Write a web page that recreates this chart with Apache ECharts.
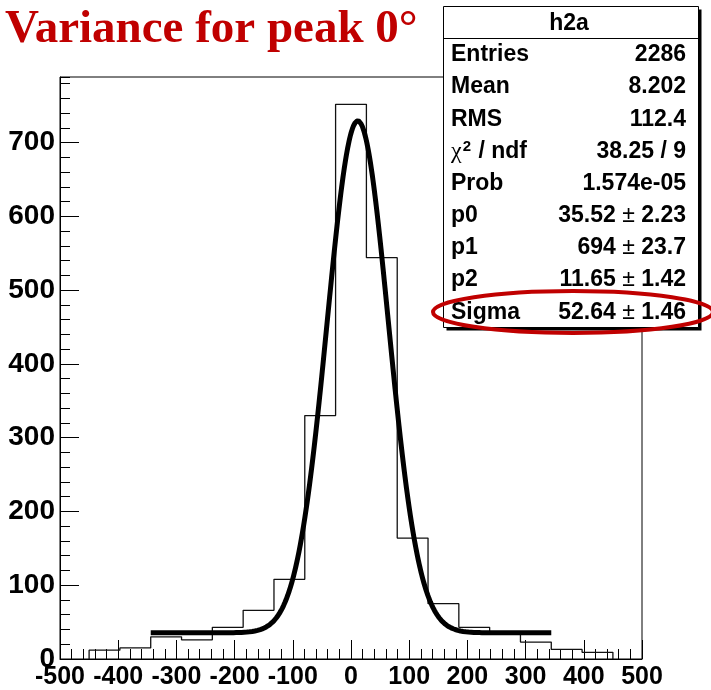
<!DOCTYPE html>
<html>
<head>
<meta charset="utf-8">
<script src="https://cdn.jsdelivr.net/npm/echarts@6/dist/echarts.min.js"></script>
<style>
  html, body { margin: 0; padding: 0; background: #ffffff; }
  #chart { width: 711px; height: 690px; }
</style>
</head>
<body>
<div id="chart"></div>
<script>
// Histogram h2a: 17 equal bins over [-450, 450]
const binLow = -450;
const binHigh = 450;
const binCounts = [12, 15, 30, 26, 43, 66, 108, 330, 752, 544, 164, 75, 43, 36, 23, 13, 9];

// Fit: constant p0 plus a Gaussian of height p1, mean p2 and width Sigma
const fitP0 = 35.52;
const fitP1 = 694;
const fitP2 = 11.65;
const fitSigma = 52.64;
const fitFirstBin = 2;   // fit runs from the edge of bin 2 to the edge of bin 15
const fitLastBin = 15;

// Axis ranges and tick spacing
const xRange = [-500, 500];
const yRange = [0, 789];
const xMajor = 100, xMinor = 20;
const yMajor = 100, yMinor = 20;

// Statistics box
const statTitle = 'h2a';
const statNames = ['Entries', 'Mean', 'RMS', '{chi|χ}{sup|2}{b| / ndf}', 'Prob', 'p0', 'p1', 'p2', 'Sigma'];
const statValues = ['2286', '8.202', '112.4', '38.25 / 9', '1.574e-05',
                    '35.52 ± 2.23', '694 ± 23.7', '11.65 ± 1.42', '52.64 ± 1.46'];

const titleText = 'Variance for peak 0°';

// ---- derived geometry of the data ----
const binWidth = (binHigh - binLow) / binCounts.length;
const edges = binCounts.map((_, i) => binLow + i * binWidth).concat([binHigh]);

// Outline of the histogram: up at the first edge, across each bin, down at the last edge
const histOutline = [[edges[0], 0]];
binCounts.forEach((c, i) => {
  histOutline.push([edges[i], c]);
  histOutline.push([edges[i + 1], c]);
});
histOutline.push([edges[edges.length - 1], 0]);

// Fit function sampled across its range
function fitFn(x) {
  const u = (x - fitP2) / fitSigma;
  return fitP0 + fitP1 * Math.exp(-0.5 * u * u);
}
const fitLo = edges[fitFirstBin];
const fitHi = edges[fitLastBin];
const fitCurve = [];
const nFit = 600;
for (let k = 0; k <= nFit; k++) {
  const x = fitLo + (fitHi - fitLo) * k / nFit;
  fitCurve.push([x, fitFn(x)]);
}

const axisFont = 'Liberation Sans, Arial, sans-serif';
const statFont = 'Liberation Sans, Arial, sans-serif';

// ---- statistics box graphics ----
const box = { x: 443.5, y: 6.5, w: 255, h: 321 };
const rowY0 = 55, rowStep = 32.15;
const statRich = {
  b: { font: 'bold 23px ' + statFont, fill: '#000' },
  v: { font: 'bold 23px ' + statFont, fill: '#000' },
  pm: { font: '23px ' + statFont, fill: '#000' },
  chi: { font: '24px Liberation Serif, serif', fill: '#000' },
  sup: { font: 'bold 15px ' + statFont, fill: '#000', padding: [0, 1, 9, 1] }
};
function labelText(s) {
  return s.indexOf('{') >= 0 ? s : '{b|' + s + '}';
}
function valueText(s) {
  return s.split(' ± ').map(p => '{v|' + p + '}').join('{v| }{pm|±}{v| }');
}
const statElems = [
  // drop shadow
  { type: 'rect', shape: { x: box.x + 3, y: box.y + 3, width: box.w, height: box.h },
    style: { fill: '#000' } },
  { type: 'rect', shape: { x: box.x, y: box.y, width: box.w, height: box.h },
    style: { fill: '#fff', stroke: '#000', lineWidth: 1 } },
  { type: 'line', shape: { x1: box.x, y1: 38.5, x2: box.x + box.w, y2: 38.5 },
    style: { stroke: '#000', lineWidth: 1 } },
  { type: 'text', x: 569, y: 24,
    style: { text: statTitle, font: 'bold 23px ' + statFont, fill: '#000',
             align: 'center', verticalAlign: 'middle' } }
];
statNames.forEach((name, i) => {
  const y = rowY0 + i * rowStep;
  statElems.push({ type: 'text', x: 451, y: y,
    style: { text: labelText(name), rich: statRich, font: 'bold 23px ' + statFont,
             fill: '#000', align: 'left', verticalAlign: 'middle' } });
  statElems.push({ type: 'text', x: 686, y: y,
    style: { text: valueText(statValues[i]), rich: statRich,
             font: 'bold 23px ' + statFont, fill: '#000',
             align: 'right', verticalAlign: 'middle' } });
});
// red ring drawn around the Sigma row
statElems.push({ type: 'ellipse', shape: { cx: 573, cy: 312, rx: 140, ry: 21 },
  style: { fill: 'none', stroke: '#c00000', lineWidth: 4 } });

const chart = echarts.init(document.getElementById('chart'), null, { renderer: 'canvas' });

const tickLine = { color: '#000', width: 1 };

chart.setOption({
  animation: false,
  backgroundColor: '#ffffff',
  grid: {
    left: 60, right: 69, top: 77, bottom: 31,
    show: true, borderColor: '#000', borderWidth: 1, backgroundColor: 'transparent'
  },
  xAxis: [
    {
      type: 'value', min: xRange[0], max: xRange[1], interval: xMajor, position: 'bottom',
      axisLine: { show: true, onZero: false, lineStyle: tickLine },
      axisTick: { show: true, inside: true, length: 19, lineStyle: tickLine },
      axisLabel: { show: true, margin: 6, color: '#000', fontFamily: axisFont,
                   fontWeight: 'bold', fontSize: 25, lineHeight: 25 },
      splitLine: { show: false }
    },
    {
      type: 'value', min: xRange[0], max: xRange[1], interval: xMinor, position: 'bottom',
      axisLine: { show: false, onZero: false },
      axisTick: { show: true, inside: true, length: 10, lineStyle: tickLine },
      axisLabel: { show: false },
      splitLine: { show: false }
    }
  ],
  yAxis: [
    {
      type: 'value', min: yRange[0], max: yRange[1], interval: yMajor, position: 'left',
      axisLine: { show: true, onZero: false, lineStyle: tickLine },
      axisTick: { show: true, inside: true, length: 19, lineStyle: tickLine },
      axisLabel: { show: true, margin: 5, color: '#000', fontFamily: axisFont,
                   fontWeight: 'bold', fontSize: 28, showMaxLabel: false },
      splitLine: { show: false }
    },
    {
      type: 'value', min: yRange[0], max: yRange[1], interval: yMinor, position: 'left',
      axisLine: { show: false, onZero: false },
      axisTick: { show: true, inside: true, length: 10, lineStyle: tickLine },
      axisLabel: { show: false },
      splitLine: { show: false }
    }
  ],
  series: [
    {
      name: 'h2a', type: 'line', xAxisIndex: 0, yAxisIndex: 0,
      data: histOutline, showSymbol: false, symbol: 'none',
      lineStyle: { color: '#111', width: 1.3 }, z: 3
    },
    {
      name: 'fit', type: 'line', xAxisIndex: 0, yAxisIndex: 0,
      data: fitCurve, showSymbol: false, symbol: 'none', smooth: false,
      lineStyle: { color: '#000', width: 5, join: 'round', cap: 'butt' }, z: 4
    }
  ],
  graphic: [
    { type: 'text', left: 5, top: 6, z: 50,
      style: { text: titleText, font: 'bold 47px Liberation Serif, Times New Roman, serif',
               fill: '#c00000' } },
    { type: 'group', z: 100, children: statElems }
  ]
});
</script>
</body>
</html>
